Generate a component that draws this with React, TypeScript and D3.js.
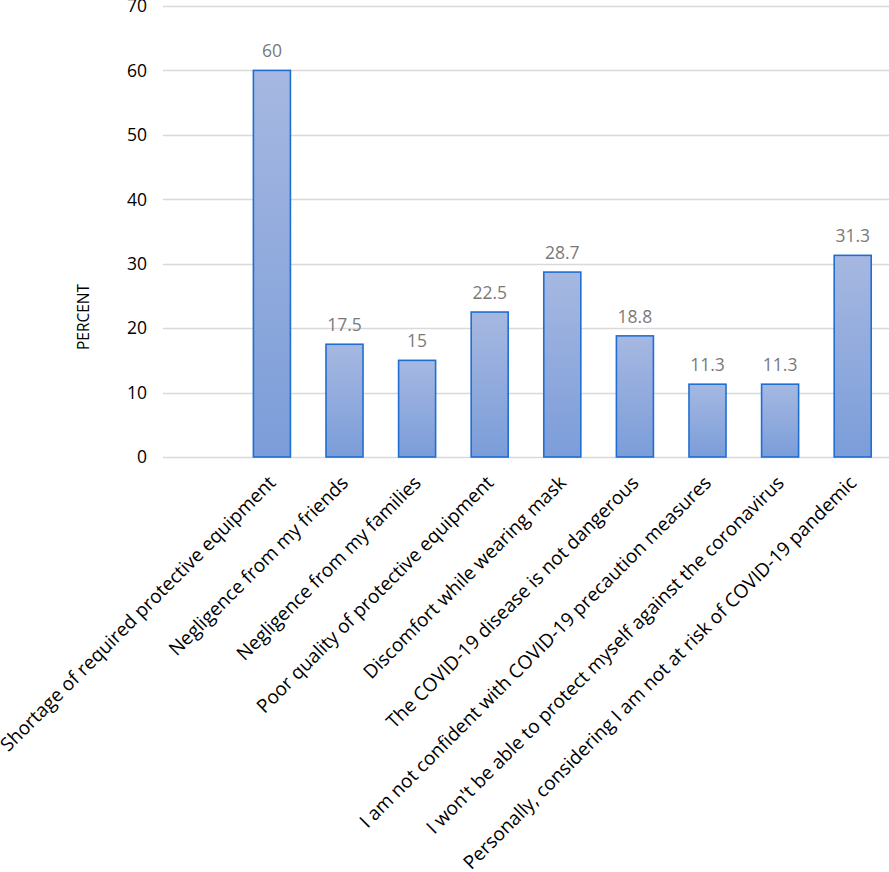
import React from "react";
import * as d3 from "d3";

const categories: string[] = [
  "Shortage of required protective equipment",
  "Negligence from my friends",
  "Negligence from my families",
  "Poor quality of protective equipment",
  "Discomfort while wearing mask",
  "The COVID-19 disease is not dangerous",
  "I am not confident with COVID-19 precaution measures",
  "I won't be able to protect myself against the coronavirus",
  "Personally, considering I am not at risk of COVID-19 pandemic",
];
const values: number[] = [60, 17.5, 15, 22.5, 28.7, 18.8, 11.3, 11.3, 31.3];
const yTicks: number[] = [0, 10, 20, 30, 40, 50, 60, 70];
const yLabel = "PERCENT";

const W = 889;
const H = 872;
const FONT = "'Open Sans', 'Noto Sans', sans-serif";

export default function App() {
  const plotLeft = 163;
  const plotRight = 889;
  const step = (plotRight - plotLeft) / (categories.length + 1);
  const x = d3
    .scaleBand<string>()
    .domain(categories)
    .range([plotLeft + step, plotRight])
    .paddingInner(0.49)
    .paddingOuter(0.245);
  const y = d3.scaleLinear().domain([0, 70]).range([457, 6]);

  return (
    <svg
      width={W}
      height={H}
      style={{ position: "absolute", left: 0, top: 0, background: "#fff" }}
      fontFamily={FONT}
    >
      <defs>
        <linearGradient id="barGrad" x1="0" y1="0" x2="0" y2="1">
          <stop offset="0%" stopColor="#a6b8e1" />
          <stop offset="100%" stopColor="#7b9dd9" />
        </linearGradient>
      </defs>
      {yTicks.map((t) => (
        <g key={t}>
          <line
            x1={plotLeft}
            x2={plotRight}
            y1={Math.round(y(t)) + 0.5}
            y2={Math.round(y(t)) + 0.5}
            stroke="#d9d9d9"
            strokeWidth={1.3}
          />
          <text
            x={147}
            y={y(t)}
            dy="0.36em"
            textAnchor="end"
            fontSize={17.5}
            fill="#000"
          >
            {t}
          </text>
        </g>
      ))}
      <text
        transform={`translate(89,317) rotate(-90)`}
        textAnchor="middle"
        fontSize={15.5}
        fill="#000"
      >
        {yLabel}
      </text>
      {categories.map((c, i) => {
        const bx = x(c)!;
        const bw = x.bandwidth();
        const top = y(values[i]);
        const cx = bx + bw / 2;
        return (
          <g key={c}>
            <rect
              x={bx}
              y={top}
              width={bw}
              height={y(0) - top}
              fill="url(#barGrad)"
              stroke="#1f6fd3"
              strokeWidth={1.6}
            />
            <text
              x={cx}
              y={top - 13}
              textAnchor="middle"
              fontSize={17.5}
              fill="#7a7a7a"
            >
              {values[i]}
            </text>
            <text
              transform={`translate(${cx + 5},484) rotate(-45)`}
              textAnchor="end"
              fontSize={19}
              fill="#000"
            >
              {c}
            </text>
          </g>
        );
      })}
    </svg>
  );
}
